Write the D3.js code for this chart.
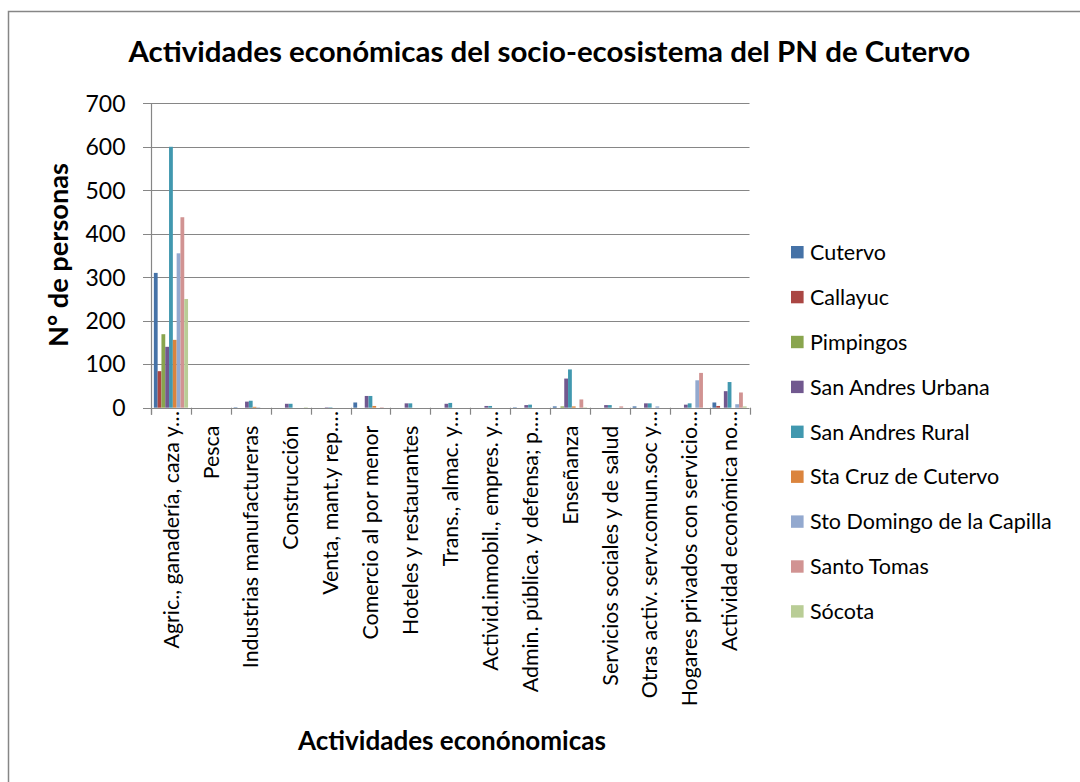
<!DOCTYPE html>
<html>
<head>
<meta charset="utf-8">
<script src="https://cdn.jsdelivr.net/npm/d3@7"></script>
<style>
  html, body { margin: 0; padding: 0; background: #fff; }
  svg { display: block; }
</style>
</head>
<body>
<svg id="chart" width="1080" height="782"></svg>
<script>
// ---------------- data ----------------
const chartTitle = "Actividades económicas del socio-ecosistema del PN de Cutervo";
const yTitle = "N° de personas";
const xTitle = "Actividades econónomicas";

const categories = [
  "Agric., ganadería, caza y…",
  "Pesca",
  "Industrias manufactureras",
  "Construcción",
  "Venta, mant.y rep.…",
  "Comercio al por menor",
  "Hoteles y restaurantes",
  "Trans., almac. y…",
  "Activid.inmobil., empres. y…",
  "Admin. pública. y defensa; p.…",
  "Enseñanza",
  "Servicios sociales y de salud",
  "Otras activ. serv.comun.soc y…",
  "Hogares privados con servicio…",
  "Actividad económica no…"
];

const seriesNames = [
  "Cutervo", "Callayuc", "Pimpingos", "San Andres Urbana", "San Andres Rural",
  "Sta Cruz de Cutervo", "Sto Domingo de la Capilla", "Santo Tomas", "Sócota"
];

const cutervo         = [310, 0, 1, 0, 0, 12, 0, 0, 0, 1, 3, 0, 3, 0, 12];
const callayuc        = [84, 0, 0, 0, 0, 0, 0, 0, 0, 0, 0, 0, 0, 0, 4];
const pimpingos       = [169, 0, 0, 0, 0, 0, 0, 0, 0, 0, 3, 0, 0, 0, 0];
const sanAndresUrbana = [140, 0, 14, 9, 1, 27, 10, 9, 4, 6, 67, 6, 10, 7, 38];
const sanAndresRural  = [600, 0, 16, 9, 1, 27, 10, 11, 4, 7, 88, 6, 10, 10, 59];
const staCruz         = [156, 0, 2, 0, 0, 4, 0, 0, 0, 0, 3, 0, 0, 0, 0];
const stoDomingo      = [355, 0, 1, 0, 0, 0, 0, 0, 0, 0, 0, 0, 3, 63, 8];
const santoTomas      = [438, 0, 0, 0, 0, 1, 0, 0, 0, 0, 19, 3, 0, 80, 35];
const socota          = [250, 0, 0, 1, 0, 0, 0, 0, 0, 0, 1, 0, 0, 0, 3];

const seriesValues = [cutervo, callayuc, pimpingos, sanAndresUrbana, sanAndresRural,
                      staCruz, stoDomingo, santoTomas, socota];

const seriesColors = ["#4572A7", "#AA4643", "#89A54E", "#71588F", "#4198AF",
                      "#DB843D", "#93A9CF", "#D19392", "#B9CD96"];

const yTicks = [0, 100, 200, 300, 400, 500, 600, 700];

// ---------------- layout ----------------
const FONT = "Lato, 'Open Sans', sans-serif";
const GRID = "#868686";
const plot = { left: 151, right: 749.5, top: 103.3, bottom: 407.7 };

const svg = d3.select("#chart");

function fitSize(weight, sample, target) {
  const t = svg.append("text")
    .attr("font-family", FONT).attr("font-weight", weight)
    .attr("font-size", 100).text(sample);
  const w = t.node().getComputedTextLength();
  t.remove();
  return 100 * target / w;
}

const titleSize  = fitSize("bold", chartTitle, 842);
const yTitleSize = fitSize("bold", yTitle, 184);
const xTitleSize = fitSize("bold", xTitle, 308);
const tickSize   = fitSize("normal", "700", 40);
const catSize    = fitSize("normal", "Construcción", 124);
const legendSize = fitSize("normal", "Cutervo", 76);

// outer border (only left and top visible in the frame)
svg.append("rect")
  .attr("x", 8.5).attr("y", 11.5).attr("width", 1200).attr("height", 900)
  .attr("fill", "none").attr("stroke", GRID).attr("stroke-width", 1.5);

// title
svg.append("text")
  .attr("x", 549.4).attr("y", 62.3)
  .attr("text-anchor", "middle")
  .attr("font-family", FONT).attr("font-weight", "bold")
  .attr("font-size", titleSize).attr("fill", "#000")
  .text(chartTitle);

// scales
const x0 = d3.scaleBand().domain(categories).range([plot.left, plot.right]).padding(0);
const bw = x0.bandwidth();
const gap = bw * 1.5 / 10.5;
const x1 = d3.scaleBand().domain(d3.range(seriesNames.length))
  .range([gap / 2, bw - gap / 2]).padding(0);
const y = d3.scaleLinear().domain([0, 700]).range([plot.bottom, plot.top]);

// gridlines
svg.append("g").selectAll("line").data(yTicks).join("line")
  .attr("x1", plot.left - 8).attr("x2", plot.right)
  .attr("y1", d => Math.round(y(d)) + 0.5).attr("y2", d => Math.round(y(d)) + 0.5)
  .attr("stroke", GRID).attr("stroke-width", 1.2);

// y tick labels
svg.append("g").selectAll("text").data(yTicks).join("text")
  .attr("x", 125.5).attr("y", d => y(d))
  .attr("dy", "0.36em")
  .attr("text-anchor", "end")
  .attr("font-family", FONT).attr("font-size", tickSize).attr("fill", "#000")
  .text(d => d);

// y axis line
svg.append("line")
  .attr("x1", plot.left + 0.5).attr("x2", plot.left + 0.5)
  .attr("y1", plot.top).attr("y2", plot.bottom + 7)
  .attr("stroke", GRID).attr("stroke-width", 1.2);

// x axis tick marks at category boundaries
const bounds = categories.map(c => x0(c)).concat([plot.right]);
svg.append("g").selectAll("line").data(bounds).join("line")
  .attr("x1", d => Math.round(d) + 0.5).attr("x2", d => Math.round(d) + 0.5)
  .attr("y1", plot.bottom).attr("y2", plot.bottom + 7)
  .attr("stroke", GRID).attr("stroke-width", 1.2);

// bars
const barData = [];
categories.forEach((c, ci) => {
  seriesValues.forEach((vals, si) => {
    barData.push({ c, si, v: vals[ci] });
  });
});
svg.append("g").selectAll("rect").data(barData.filter(d => d.v > 0)).join("rect")
  .attr("x", d => x0(d.c) + x1(d.si))
  .attr("width", x1.bandwidth())
  .attr("y", d => y(d.v))
  .attr("height", d => y(0) - y(d.v))
  .attr("fill", d => seriesColors[d.si]);

// category labels (rotated)
svg.append("g").selectAll("text").data(categories).join("text")
  .attr("transform", d => {
    const cx = x0(d) + bw / 2;
    const top = d.endsWith("…") ? 411 : 425.7;
    return `translate(${cx},${top}) rotate(-90)`;
  })
  .attr("dy", "0.36em")
  .attr("text-anchor", "end")
  .attr("font-family", FONT).attr("font-size", catSize).attr("fill", "#000")
  .text(d => d);

// y title
svg.append("text")
  .attr("transform", "translate(68.3,255) rotate(-90)")
  .attr("text-anchor", "middle")
  .attr("font-family", FONT).attr("font-weight", "bold")
  .attr("font-size", yTitleSize).attr("fill", "#000")
  .text(yTitle);

// x title
svg.append("text")
  .attr("x", 452).attr("y", 750)
  .attr("text-anchor", "middle")
  .attr("font-family", FONT).attr("font-weight", "bold")
  .attr("font-size", xTitleSize).attr("fill", "#000")
  .text(xTitle);

// legend
const legend = svg.append("g").selectAll("g").data(seriesNames).join("g")
  .attr("transform", (d, i) => `translate(791,${252.2 + i * 44.9})`);
legend.append("rect")
  .attr("x", 0).attr("y", -6.2).attr("width", 12.6).attr("height", 12.4)
  .attr("fill", (d, i) => seriesColors[i]);
legend.append("text")
  .attr("x", 19).attr("y", 0).attr("dy", "0.36em")
  .attr("font-family", FONT).attr("font-size", legendSize).attr("fill", "#000")
  .text(d => d);
</script>
</body>
</html>
